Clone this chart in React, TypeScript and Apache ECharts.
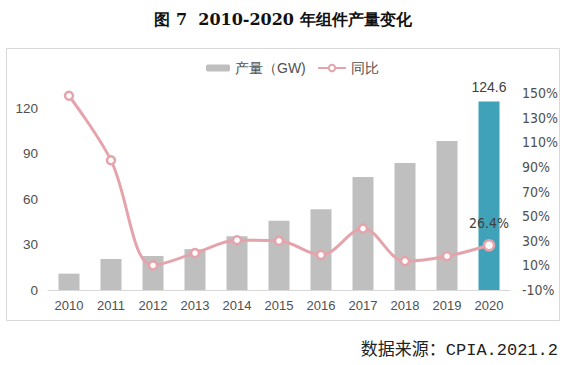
import React, { useEffect, useRef } from "react";
import * as echarts from "echarts";

const years = ["2010", "2011", "2012", "2013", "2014", "2015", "2016", "2017", "2018", "2019", "2020"];
const output = [10.8, 20.5, 22.5, 27, 35.6, 45.8, 53.4, 74.7, 84, 98.4, 124.6];
const growth = [148, 95.5, 10, 20, 30.5, 30, 18.5, 40, 13.5, 17.5, 26.4];
const titleText = "图 7  2010-2020 年组件产量变化";
const sourceText = "数据来源：CPIA.2021.2";

export default function App() {
  const ref = useRef<HTMLDivElement>(null);
  useEffect(() => {
    if (!ref.current) return;
    const chart = echarts.init(ref.current, undefined, { renderer: "svg" });
    const font = "Liberation Sans, Arial, sans-serif";
    const narrow = "Liberation Sans Narrow, DejaVu Sans Condensed, Liberation Sans, sans-serif";
    const last = years.length - 1;
    const labelColor = "#505050";
    chart.setOption({
      animation: false,
      backgroundColor: "#ffffff",
      title: {
        text: titleText,
        left: "center",
        top: 6,
        textStyle: {
          fontFamily: "DejaVu Serif, serif",
          fontSize: 16,
          fontWeight: "bold",
          color: "#111",
        },
      },
      graphic: [
        {
          type: "rect",
          shape: { x: 6.5, y: 48.5, width: 553, height: 272 },
          style: { fill: "none", stroke: "#D9D9D9", lineWidth: 1 },
          silent: true,
        },
        {
          type: "text",
          right: 8,
          top: 342,
          style: {
            text: sourceText,
            fontFamily: "Liberation Mono, Noto Sans CJK SC, monospace",
            fontSize: 17,
            fill: "#222",
          },
        },
      ],
      legend: [
        {
          left: 201,
          top: 56,
          itemWidth: 24,
          itemHeight: 7,
          textStyle: { color: labelColor, fontSize: 14, fontFamily: font },
          data: ["产量（GW)"],
        },
        {
          left: 312,
          top: 56,
          itemWidth: 28,
          itemHeight: 8,
          textStyle: { color: labelColor, fontSize: 14, fontFamily: font },
          data: ["同比"],
        },
      ],
      grid: { left: 48, right: 56, top: 93.3, bottom: 75 },
      xAxis: {
        type: "category",
        data: years,
        axisLine: { lineStyle: { color: "#D9D9D9" } },
        axisTick: { show: false },
        axisLabel: { color: labelColor, fontSize: 13, fontFamily: font, margin: 9 },
      },
      yAxis: [
        {
          type: "value",
          min: 0,
          max: 130,
          interval: 30,
          splitLine: { show: false },
          axisLine: { show: false },
          axisTick: { show: false },
          axisLabel: {
            color: labelColor,
            fontSize: 13.5,
            fontFamily: font,
            margin: 10,
            formatter: (v: number) => (v % 30 === 0 ? String(v) : ""),
          },
        },
        {
          type: "value",
          min: -10,
          max: 150,
          interval: 20,
          splitLine: { show: false },
          axisLine: { show: false },
          axisTick: { show: false },
          axisLabel: {
            color: labelColor,
            fontSize: 14,
            fontFamily: narrow,
            margin: 12,
            formatter: "{value}%",
          },
        },
      ],
      series: [
        {
          name: "产量（GW)",
          type: "bar",
          barWidth: 21,
          itemStyle: { color: "#BFBFBF" },
          data: output.map((v, i) =>
            i === last
              ? {
                  value: v,
                  itemStyle: { color: "#3FA2B8" },
                  label: {
                    show: true,
                    position: "top",
                    distance: 7,
                    color: "#404040",
                    fontSize: 14,
                    fontFamily: font,
                  },
                }
              : v
          ),
        },
        {
          name: "同比",
          type: "line",
          yAxisIndex: 1,
          smooth: 0.35,
          symbol: "circle",
          symbolSize: 8,
          lineStyle: { color: "#E5A4AC", width: 3 },
          itemStyle: { color: "#ffffff", borderColor: "#E5A4AC", borderWidth: 2.5 },
          data: growth.map((v, i) =>
            i === last
              ? {
                  value: v,
                  symbolSize: 10,
                  label: {
                    show: true,
                    position: "top",
                    distance: 9,
                    formatter: "{c}%",
                    color: "#404040",
                    fontSize: 14,
                    fontFamily: narrow,
                  },
                }
              : v
          ),
        },
      ],
    });
    return () => chart.dispose();
  }, []);
  return (
    <div
      ref={ref}
      style={{ position: "fixed", left: 0, top: 0, width: 566, height: 365 }}
    />
  );
}
